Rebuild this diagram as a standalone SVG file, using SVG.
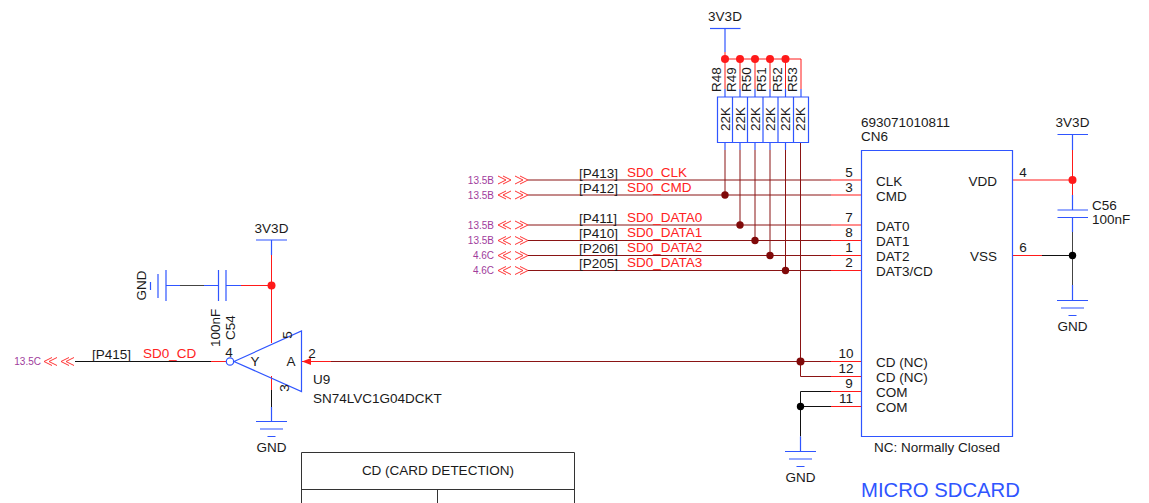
<svg xmlns="http://www.w3.org/2000/svg" xmlns:xlink="http://www.w3.org/1999/xlink" width="1149" height="503" viewBox="0 0 1149 503">
<style>
text{font-family:"Liberation Sans",Arial,sans-serif;font-size:13.500px;fill:#1a1a1a}
.r{fill:#f22}
.p{fill:#a03c9c;font-size:10px;text-anchor:end}
.m{text-anchor:middle}
.b{stroke:#2f55ff;fill:none;stroke-width:1.200}
.w{stroke:#8a1414;fill:none}
.rd{stroke:#ff1a1a;fill:none}
.k{stroke:#111;fill:none}
.g{stroke:#444;fill:none}
.ch{stroke:#f33;fill:none;stroke-width:1}
.dr{fill:#ff1a1a}.dd{fill:#800a0a}.dk{fill:#000}
</style>
<defs>
<g id="gnd" class="b"><path d="M-15.500 0H15.500M-11.500 7.500H11.500M-4 15H4"/></g>
<path id="l" d="M8 -4L0 0L8 4M13 -4L5 0L13 4"/>
<path id="o" d="M0 -4L8 0L0 4M5 -4L13 0L5 4"/>
</defs>

<g id="connectors">
<path class="b" d="M725 28.500V52"/>
<path class="rd" d="M725 52V89M725 59H801V89M740 59V89M755 59V89M770 59V89M785.500 59V89"/>
<path class="b" d="M725 89V97M740 89V97M755 89V97M770 89V97M785.500 89V97M801 89V97M725 142V150M740 142V150M755 142V150M770 142V150M785.500 142V150"/>
<path class="w" d="M725 150V195M740 150V225M755 150V240M770 150V255M785.500 150V270M800.500 142V376.500"/>
<path class="w" d="M528 180H831M528 195H831M528 225H831M528 240.500H831M528 255.500H831M528 270.500H831M331 361.500H831M800.500 376.500H831"/>
<path class="rd" d="M831 180H861M831 195H861M831 225H861M831 240.500H861M831 255.500H861M831 270.500H861M831 361.500H861M831 376.500H861M831 391.500H861M831 406.500H861M302 361.500H331"/>
<path class="k" d="M831 391.500H800.500V436.500M831 406.500H800.500"/>
<path class="b" d="M800.500 436.500V451.500"/>
<path class="b" d="M1072.500 134.500V150M1072.500 195V210M1072.500 217.500V232M1072.500 285V300.500"/>
<path class="rd" d="M1072.500 150V195M1012 180H1072.500M1012 255.500H1042"/>
<path class="g" d="M1072.500 232V285"/>
<path class="k" d="M1042 255.500H1072.500"/>
<path class="b" d="M271.500 240V255"/>
<path class="rd" d="M271.500 255V343M241 285.500H271.500M271.500 376V390"/>
<path class="b" d="M226 285.500H241M166 285.500H180M204 285.500H218"/>
<path class="g" d="M180 285.500H204"/>
<path class="k" d="M271.500 390V407M75 361.500H211"/>
<path class="b" d="M271.500 407V421.500"/>
<path class="rd" d="M211 361.500H226"/>
<path d="M302 361.500L311 358V365Z" fill="#ff1a1a"/>
<use href="#l" class="ch" x="44" y="361.500"/><use href="#l" class="ch" x="61" y="361.500"/>
<use href="#o" class="ch" x="498" y="180"/><use href="#o" class="ch" x="515" y="180"/>
<use href="#l" class="ch" x="498" y="195"/><use href="#o" class="ch" x="515" y="195"/>
<use href="#l" class="ch" x="498" y="225"/><use href="#o" class="ch" x="515" y="225"/>
<use href="#l" class="ch" x="498" y="240.500"/><use href="#o" class="ch" x="515" y="240.500"/>
<use href="#l" class="ch" x="498" y="255.500"/><use href="#o" class="ch" x="515" y="255.500"/>
<use href="#l" class="ch" x="498" y="270.500"/><use href="#o" class="ch" x="515" y="270.500"/>
<g class="dr"><circle cx="725" cy="59" r="4"/><circle cx="740" cy="59" r="4"/><circle cx="755" cy="59" r="4"/><circle cx="770" cy="59" r="4"/><circle cx="785.500" cy="59" r="4"/><circle cx="1072.500" cy="180" r="4"/><circle cx="271.500" cy="285.500" r="4"/></g>
<g class="dd"><circle cx="725" cy="195" r="3.700"/><circle cx="740" cy="225" r="3.700"/><circle cx="755" cy="240.500" r="3.700"/><circle cx="770" cy="255.500" r="3.700"/><circle cx="785.500" cy="270.500" r="3.700"/><circle cx="800.500" cy="361.500" r="4"/></g>
<g class="dk"><circle cx="800.500" cy="406.500" r="3.700"/><circle cx="1072.500" cy="255.500" r="3.700"/></g>
</g>

<g id="pwr-top"><path class="b" d="M710 28.500H740.500"/><text class="m" x="725" y="21">3V3D</text></g>

<g id="R48-R53">
<path class="b" d="M717.500 97H808.500V142.500H717.500ZM732.500 97V142.500M747.500 97V142.500M763 97V142.500M778 97V142.500M793.500 97V142.500"/>
<text transform="translate(721 92) rotate(-90)">R48</text>
<text transform="translate(736 92) rotate(-90)">R49</text>
<text transform="translate(751 92) rotate(-90)">R50</text>
<text transform="translate(766 92) rotate(-90)">R51</text>
<text transform="translate(781.500 92) rotate(-90)">R52</text>
<text transform="translate(797 92) rotate(-90)">R53</text>
<text class="m" transform="translate(729.500 119) rotate(-90)">22K</text>
<text class="m" transform="translate(744.500 119) rotate(-90)">22K</text>
<text class="m" transform="translate(759.500 119) rotate(-90)">22K</text>
<text class="m" transform="translate(775 119) rotate(-90)">22K</text>
<text class="m" transform="translate(790 119) rotate(-90)">22K</text>
<text class="m" transform="translate(805 119) rotate(-90)">22K</text>
</g>

<g id="nets">
<text class="p" x="494" y="184">13.5B</text><text x="579" y="178">[P413]</text><text class="r" x="627" y="177">SD0_CLK</text>
<text class="p" x="494" y="199">13.5B</text><text x="579" y="193">[P412]</text><text class="r" x="627" y="192">SD0_CMD</text>
<text class="p" x="494" y="229">13.5B</text><text x="579" y="223">[P411]</text><text class="r" x="627" y="222">SD0_DATA0</text>
<text class="p" x="494" y="244">13.5B</text><text x="579" y="238">[P410]</text><text class="r" x="627" y="237">SD0_DATA1</text>
<text class="p" x="494" y="259">4.6C</text><text x="579" y="253">[P206]</text><text class="r" x="627" y="252">SD0_DATA2</text>
<text class="p" x="494" y="274">4.6C</text><text x="579" y="268">[P205]</text><text class="r" x="627" y="267">SD0_DATA3</text>
<text class="p" x="41" y="365">13.5C</text><text x="92" y="359">[P415]</text><text class="r" x="143" y="358">SD0_CD</text>
</g>

<g id="CN6">
<path class="b" d="M861.500 150.500H1012.500V436.500H861.500Z"/>
<text x="861" y="127">693071010811</text><text x="861" y="141">CN6</text>
<text class="m" x="849" y="177">5</text><text class="m" x="849" y="192">3</text><text class="m" x="849" y="222">7</text><text class="m" x="849" y="237">8</text><text class="m" x="849" y="252">1</text><text class="m" x="849" y="267">2</text>
<text class="m" x="846" y="358">10</text><text class="m" x="846" y="373">12</text><text class="m" x="849" y="388">9</text><text class="m" x="846" y="403">11</text>
<text class="m" x="1023" y="177">4</text><text class="m" x="1023" y="252">6</text>
<text x="876" y="186">CLK</text><text x="876" y="201">CMD</text><text x="876" y="231">DAT0</text><text x="876" y="246">DAT1</text><text x="876" y="261">DAT2</text><text x="876" y="276">DAT3/CD</text>
<text x="876" y="367">CD (NC)</text><text x="876" y="382">CD (NC)</text><text x="876" y="397">COM</text><text x="876" y="412">COM</text>
<text x="997" y="186" text-anchor="end">VDD</text><text x="997" y="261" text-anchor="end">VSS</text>
<text x="874" y="452">NC: Normally Closed</text>
<text x="861" y="497" style="font-size:20.300px;fill:#2f55ff">MICRO SDCARD</text>
</g>

<g id="gnd-cn6"><use href="#gnd" x="800.500" y="451.500"/><text class="m" x="800.500" y="482">GND</text></g>

<g id="C56">
<path class="b" d="M1057.500 134.500H1088M1057.500 210H1088M1057.500 217.500H1088"/>
<text class="m" x="1072.500" y="127">3V3D</text>
<text x="1092" y="210">C56</text><text x="1092" y="224">100nF</text>
<use href="#gnd" x="1072.500" y="300.500"/><text class="m" x="1072.500" y="331">GND</text>
</g>

<g id="C54">
<path class="b" d="M256 240H287M218.500 270V301M226 270V301M166 270V301M158 274V298M150.500 282V290"/>
<text class="m" x="271.500" y="233">3V3D</text>
<text transform="translate(146 300.500) rotate(-90)">GND</text>
<text transform="translate(220 347) rotate(-90)">100nF</text>
<text transform="translate(235 340) rotate(-90)">C54</text>
</g>

<g id="U9">
<path class="b" d="M234 361.500L301.500 331V391.500Z"/><circle class="b" cx="230" cy="361.500" r="3.700"/>
<text class="m" x="229" y="357">4</text>
<text class="m" x="255" y="366">Y</text><text class="m" x="291" y="366">A</text>
<text class="m" x="312" y="358">2</text>
<text class="m" transform="translate(292 335) rotate(-90)">5</text>
<text class="m" transform="translate(289 388) rotate(-90)">3</text>
<text x="313" y="384">U9</text><text x="313" y="403">SN74LVC1G04DCKT</text>
<use href="#gnd" x="271.500" y="421.500"/><text class="m" x="271.500" y="452">GND</text>
</g>

<g id="table">
<path d="M301.500 503V452.500H574.500V503M301.500 489.500H574.500M437.500 489.500V503" fill="none" stroke="#333"/>
<text class="m" x="438" y="475">CD (CARD DETECTION)</text>
</g>
</svg>
